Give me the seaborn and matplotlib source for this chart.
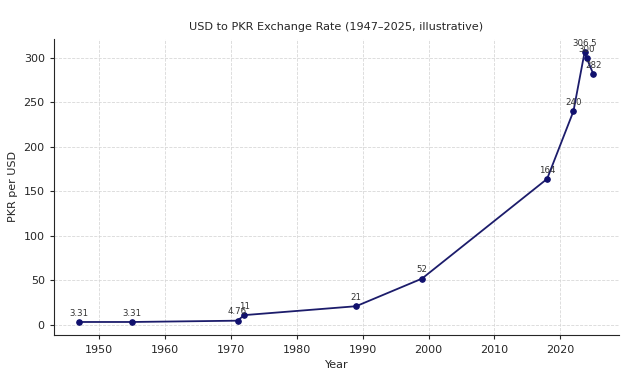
import matplotlib
matplotlib.use("Agg")
import matplotlib.pyplot as plt
import pandas as pd
import seaborn as sns

# データ
years = [1947, 1955, 1971, 1972, 1989, 1999, 2018, 2022, 2023.7, 2024, 2025]
rates = [3.31, 3.31, 4.76, 11, 21, 52, 164, 240, 306.5, 300, 282]
labels = ["3.31", "3.31", "4.76", "11", "21", "52", "164", "240", "306.5", "300", "282"]

df = pd.DataFrame({"Year": years, "PKR per USD": rates})

sns.set_style("ticks")
plt.rcParams['font.family'] = ['DejaVu Sans']

fig = plt.figure(figsize=(6.4, 3.74), dpi=100)
ax = fig.add_axes([0.084, 0.103, 0.883, 0.794])

sns.lineplot(data=df, x="Year", y="PKR per USD", ax=ax, color="#1c1c6b",
             marker="o", markersize=4, markeredgecolor="#10106e",
             markerfacecolor="#10106e", linewidth=1.3, sort=False)

# 値ラベル（元図と同じく点の真上）
for x, y, t in zip(years, rates, labels):
    ax.annotate(t, (x, y), textcoords="offset points", xytext=(0, 4.5),
                ha="center", fontsize=6.2, color="#333333")

ax.grid(True, linestyle="--", linewidth=0.6, color="#d8d8d8")
sns.despine(ax=ax)
ax.tick_params(labelsize=8, length=3)
ax.set_xlabel("Year", fontsize=8)
ax.set_ylabel("PKR per USD", fontsize=8)
ax.set_title("USD to PKR Exchange Rate (1947\u20132025, illustrative)", fontsize=8.1)

fig.savefig("out.png", dpi=100)
